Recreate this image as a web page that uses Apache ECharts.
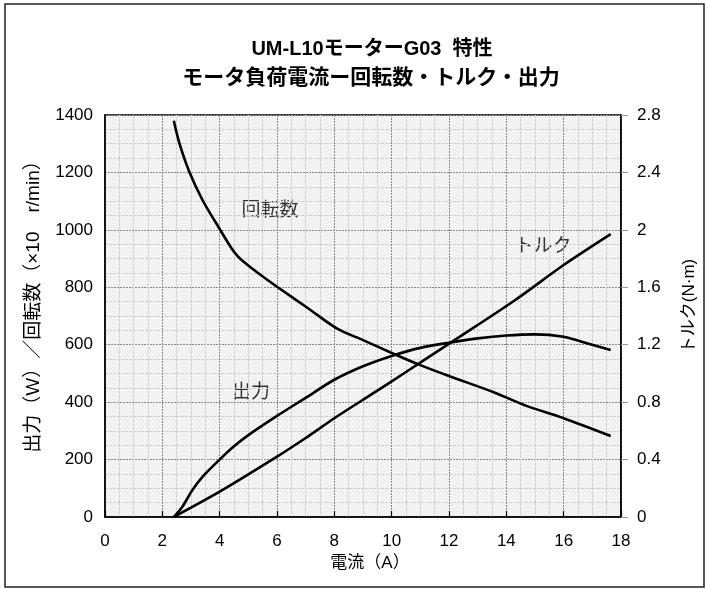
<!DOCTYPE html>
<html><head><meta charset="utf-8">
<script src="https://cdn.jsdelivr.net/npm/echarts@6/dist/echarts.min.js"></script>
<style>html,body{margin:0;padding:0;background:#fff}#c{width:706px;height:589px}</style>
</head><body><div id="c"></div>
<script>
const titleLine1 = 'UM-L10モーターG03  特性';
const titleLine2 = 'モータ負荷電流ー回転数・トルク・出力';
const xName = '電流（A）';
const yLeftName = '出力（W）／回転数（×10　r/min）';
const yRightName = 'トルク(N·m)';
const xTicks = [0, 18, 2];
const yLeftTicks = [0, 1400, 200];
const yRightTicks = [0, 2.8, 0.4];

// [current(A), value]
const speedData = [[2.4,1380],[2.6,1300],[2.93,1205],[3.4,1104],[4.0,1003],[4.4,938],[4.65,906],[4.9,884],[5.35,849],[6.0,802],[7.07,728],[8.1,656],[9.0,616],[10.1,567],[11.0,529],[12.0,491],[13.6,433],[14.7,387],[16.0,344],[17.64,282]];
const powerData = [[2.4,0],[2.7,36],[3.05,94],[3.4,140],[4.0,200],[4.5,246],[5.0,285],[6.0,352],[7.0,415],[8.0,478],[9.0,525],[10.0,561],[11.0,589],[12.0,607],[13.0,622],[14.0,632],[15.0,636],[16.0,628],[16.6,611],[17.64,582]];
const torqueData = [[2.4,0],[4.0,0.176],[6.0,0.42],[7.0,0.55],[8.0,0.688],[9.5,0.88],[10.5,1.01],[12.1,1.22],[14.3,1.51],[16.0,1.755],[17.64,1.97]];

const FONT = '"Liberation Sans", "Noto Sans CJK JP", sans-serif';
const chart = echarts.init(document.getElementById('c'));
const plain = v => String(v);
const labelStyle = {color:'#000', fontSize:17, fontFamily:FONT, formatter:plain};
const lineStyle = {color:'#000', width:2.6};
chart.setOption({
  animation:false,
  backgroundColor:'#fff',
  title:[
    {text:titleLine1, left:367, top:34, textAlign:'center', textStyle:{fontSize:20, fontWeight:'bold', color:'#000', fontFamily:FONT}},
    {text:titleLine2, left:366, top:63, textAlign:'center', textStyle:{fontSize:21, fontWeight:'bold', color:'#000', fontFamily:FONT}}
  ],
  graphic:[
    {type:'rect', shape:{x:5, y:4, width:699, height:583}, style:{fill:'none', stroke:'#222', lineWidth:1.5}, z:-1},
    {type:'text', x:270, y:209, style:{text:'回転数', fill:'#333', font:'19px "Noto Sans CJK JP"', textAlign:'center', textVerticalAlign:'middle'}},
    {type:'text', x:543, y:245, style:{text:'トルク', fill:'#333', font:'19px "Noto Sans CJK JP"', textAlign:'center', textVerticalAlign:'middle'}},
    {type:'text', x:251, y:391, style:{text:'出力', fill:'#333', font:'19px "Noto Sans CJK JP"', textAlign:'center', textVerticalAlign:'middle'}}
  ],
  grid:{left:105, right:79, top:115, bottom:72, show:true, backgroundColor:'#f2f2f2', borderColor:'#000', borderWidth:1.5},
  xAxis:{type:'value', min:xTicks[0], max:xTicks[1], interval:xTicks[2],
    name:xName, nameLocation:'middle', nameGap:38, nameTextStyle:{color:'#000', fontSize:17, fontFamily:FONT, padding:[0,0,0,14]},
    axisLine:{lineStyle:{color:'#000', width:1.5}},
    axisTick:{show:true, inside:true, length:6, lineStyle:{color:'#000', width:1.2}},
    axisLabel:{...labelStyle, margin:16},
    splitLine:{show:true, lineStyle:{color:'#8a8a8a', type:[2,1], width:1}},
    minorTick:{show:true, splitNumber:4, length:0},
    minorSplitLine:{show:true, lineStyle:{color:'#d0d0d0', type:[3,1], width:1}}
  },
  yAxis:[
    {type:'value', min:yLeftTicks[0], max:yLeftTicks[1], interval:yLeftTicks[2], position:'left',
     name:yLeftName, nameLocation:'middle', nameGap:62, nameTextStyle:{color:'#000', fontSize:19, fontFamily:FONT, padding:[0,0,0,28]},
     axisLine:{show:true, lineStyle:{color:'#000', width:1.5}},
     axisTick:{show:false},
     axisLabel:{...labelStyle, margin:12},
     splitLine:{show:true, lineStyle:{color:'#8a8a8a', type:[2,1], width:1}},
     minorTick:{show:true, splitNumber:4, length:0},
     minorSplitLine:{show:true, lineStyle:{color:'#d0d0d0', type:[3,1], width:1}}
    },
    {type:'value', min:yRightTicks[0], max:yRightTicks[1], interval:yRightTicks[2], position:'right',
     name:yRightName, nameLocation:'middle', nameGap:60, nameTextStyle:{color:'#000', fontSize:17, fontFamily:FONT, padding:[0,0,0,20]},
     axisLine:{show:true, lineStyle:{color:'#000', width:1.5}},
     axisTick:{show:true, inside:false, length:7, lineStyle:{color:'#999', width:1}},
     axisLabel:{...labelStyle, margin:16},
     splitLine:{show:false}
    }
  ],
  series:[
    {name:'回転数', type:'line', data:speedData, yAxisIndex:0, showSymbol:false, smooth:0.3, lineStyle:lineStyle},
    {name:'出力', type:'line', data:powerData, yAxisIndex:0, showSymbol:false, smooth:0.3, lineStyle:lineStyle},
    {name:'トルク', type:'line', data:torqueData, yAxisIndex:1, showSymbol:false, smooth:0.3, lineStyle:lineStyle}
  ]
});
</script></body></html>
